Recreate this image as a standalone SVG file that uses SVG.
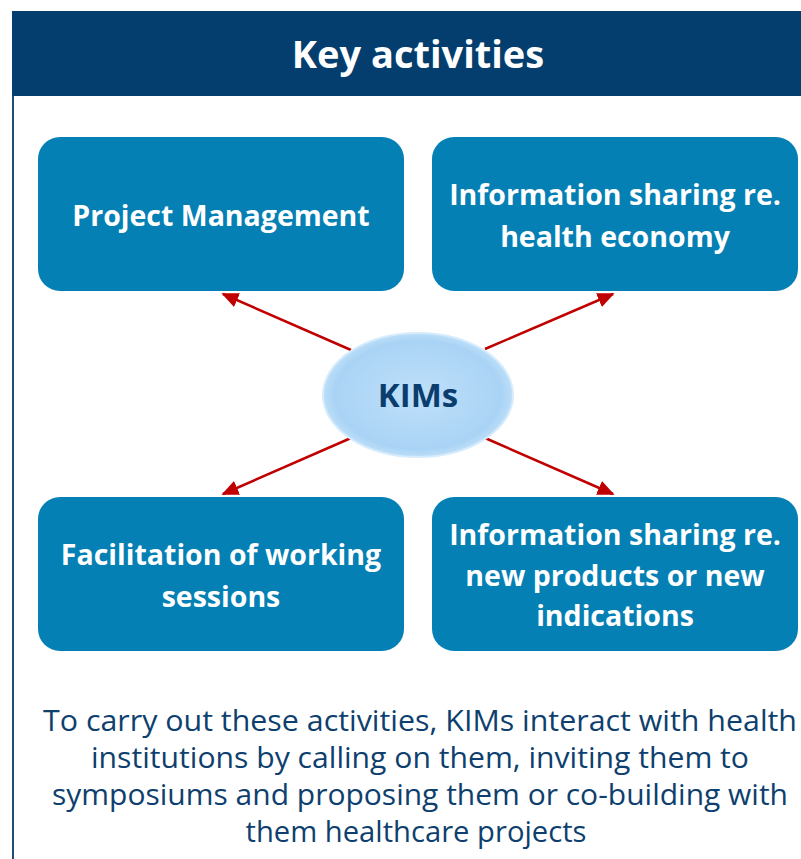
<svg xmlns="http://www.w3.org/2000/svg" width="801" height="859" viewBox="0 0 801 859">
<style>
.box{fill:#0580B4;}
.bt{font-family:"Open Sans",Lato,sans-serif;font-weight:bold;font-size:28.5px;fill:#ffffff;text-anchor:middle;}
.conn{stroke:#C00000;stroke-width:2.5;fill:none;marker-end:url(#ah);}
.foot{font-family:"Open Sans",Lato,sans-serif;font-size:29.5px;fill:#0E3F6E;text-anchor:middle;}
</style>
<defs>
<marker id="ah" viewBox="0 0 10 10" refX="9" refY="5" markerWidth="17" markerHeight="15" markerUnits="userSpaceOnUse" orient="auto" preserveAspectRatio="none">
<path d="M0,0 L10,5 L0,10 z" fill="#C00000"/>
</marker>
<radialGradient id="eg" cx="0.5" cy="0.5" r="0.55">
<stop offset="0" stop-color="#BFE0FA"/>
<stop offset="0.8" stop-color="#A9D3F5"/>
<stop offset="1" stop-color="#CDE8FB"/>
</radialGradient>
</defs>
<rect x="0" y="0" width="801" height="859" fill="#ffffff"/>
<g id="frame">
<line x1="13" y1="96" x2="13" y2="859" stroke="#1F4E79" stroke-width="2"/>
<rect x="12" y="11" width="789" height="85" fill="#043E6E"/>
<text x="418" y="68" font-family="'Open Sans',Lato,sans-serif" font-weight="bold" font-size="38" fill="#ffffff" text-anchor="middle">Key activities</text>
</g>
<g id="connectors">
<line class="conn" x1="351" y1="350" x2="223" y2="294"/>
<line class="conn" x1="485" y1="349" x2="613" y2="294"/>
<line class="conn" x1="351" y1="438" x2="223" y2="494"/>
<line class="conn" x1="485" y1="438" x2="613" y2="494"/>
</g>
<g id="n-pm">
<rect class="box" x="38" y="137" width="366" height="154" rx="22"/>
<text class="bt" x="221" y="226">Project Management</text>
</g>
<g id="n-he">
<rect class="box" x="432" y="137" width="366" height="154" rx="22"/>
<text class="bt" x="615" y="205">Information sharing re.</text>
<text class="bt" x="615" y="247">health economy</text>
</g>
<g id="n-fw">
<rect class="box" x="38" y="497" width="366" height="154" rx="22"/>
<text class="bt" x="221" y="565">Facilitation of working</text>
<text class="bt" x="221" y="607">sessions</text>
</g>
<g id="n-np">
<rect class="box" x="432" y="497" width="366" height="154" rx="22"/>
<text class="bt" x="615" y="545">Information sharing re.</text>
<text class="bt" x="615" y="586">new products or new</text>
<text class="bt" x="615" y="626">indications</text>
</g>
<g id="n-kims">
<ellipse cx="418" cy="395" rx="95" ry="62" fill="url(#eg)" stroke="#D6ECFC" stroke-width="2"/>
<text x="418" y="407" font-family="'Open Sans',Lato,sans-serif" font-weight="bold" font-size="33" fill="#0B3D6E" text-anchor="middle">KIMs</text>
</g>
<g id="footer">
<text class="foot" x="420" y="731" textLength="754" lengthAdjust="spacingAndGlyphs">To carry out these activities, KIMs interact with health</text>
<text class="foot" x="420" y="768" textLength="658" lengthAdjust="spacingAndGlyphs">institutions by calling on them, inviting them to</text>
<text class="foot" x="420" y="805" textLength="736" lengthAdjust="spacingAndGlyphs">symposiums and proposing them or co-building with</text>
<text class="foot" x="416" y="842" textLength="341" lengthAdjust="spacingAndGlyphs">them healthcare projects</text>
</g>
</svg>
